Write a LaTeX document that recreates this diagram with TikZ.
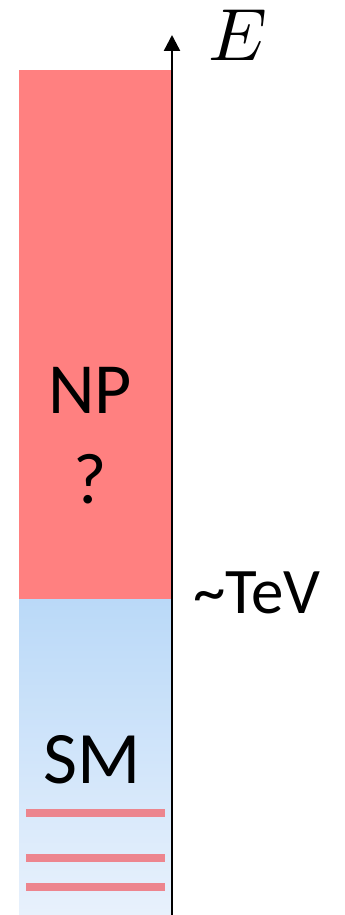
\documentclass[tikz,border=0pt]{standalone}
\usepackage{fontspec}
\setmainfont{Carlito}
\usepackage{tikz}
\usetikzlibrary{arrows.meta}
\definecolor{nppink}{RGB}{255,128,128}
\definecolor{smtop}{RGB}{186,217,248}
\definecolor{smbot}{RGB}{232,241,252}
\definecolor{lvlred}{RGB}{238,128,137}

\begin{document}
\begin{tikzpicture}[x=1pt,y=-1pt,line cap=butt,line join=miter]
  \useasboundingbox (0,0) rectangle (345,915);
  % New physics region above the TeV scale
  \coordinate (np1) at (19,70);
  \coordinate (np2) at (171,599);
  \fill[nppink] (np1) rectangle (np2);
  % Standard model region below
  \coordinate (sm1) at (19,599);
  \coordinate (sm2) at (171,915);
  \shade[top color=smtop,bottom color=smbot] (sm1) rectangle (sm2);
  \foreach \y in {813,858,887}
    \draw[line width=8pt,lvlred,opacity=0.95] (26,\y)--(165,\y);
  % Energy axis
  \coordinate (ebot) at (172,915);
  \coordinate (etop) at (172,35);
  \draw[line width=2.4pt,-{Triangle[length=16pt,width=16pt]}] (ebot)--(etop);
  \node[anchor=base west,inner sep=0pt,scale=7.4] (elab) at (207,61) {$E$};
  \node[anchor=base west,inner sep=0pt] (tev) at (193,613) {\fontsize{65}{70}\selectfont\textasciitilde TeV};
  \node[anchor=base,inner sep=0pt] (np) at (90,413) {\fontsize{72}{80}\selectfont NP};
  \node[anchor=base,inner sep=0pt] (qm) at (90,503) {\fontsize{72}{80}\selectfont ?};
  \node[anchor=base,inner sep=0pt] (sm) at (92,783) {\fontsize{74}{80}\selectfont SM};
\end{tikzpicture}
\end{document}
